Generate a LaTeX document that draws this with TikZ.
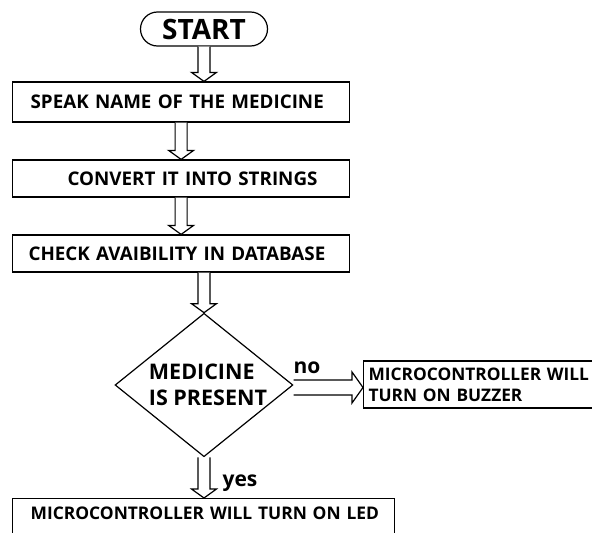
\documentclass[tikz,border=0pt]{standalone}
\usepackage{fontspec}
\setmainfont{Open Sans}
\usetikzlibrary{shapes.geometric,calc}
\tikzset{
  ln/.style={line width=1.2pt},
  box/.style={ln, draw, inner xsep=0pt, inner ysep=0pt, text width=#1, align=left, anchor=west, font=\fontsize{18.8}{20}\selectfont\bfseries},
  harrow/.style={ln, draw, fill=white, line join=miter},
  lbl/.style={font=\fontsize{21}{22}\selectfont\bfseries, inner sep=0pt}
}
\newcommand\hdown[3]{%
  \draw[harrow] let \p1=(#1.south), \p2=(#2.north), \p3=(#3.center) in
    (\x3-6pt,\y1) -- (\x3-6pt,\y2+9pt) -- (\x3-12.5pt,\y2+9pt) -- (\x3,\y2)
    -- (\x3+12.5pt,\y2+9pt) -- (\x3+6pt,\y2+9pt) -- (\x3+6pt,\y1);}
\begin{document}
\begin{tikzpicture}[x=1pt,y=-1pt]
\useasboundingbox (0,0) rectangle (592,533);
\clip (0,0) rectangle (592,533);
\node[ln, draw, rounded corners=17pt, minimum width=127pt, minimum height=34pt, inner sep=0pt,
  font=\fontsize{28}{30}\selectfont\bfseries] (start) at (204,29) {START};
\node[box=337pt, minimum height=40pt] (b1) at (12,102) {\hspace*{18pt}SPEAK NAME OF THE MEDICINE};
\node[box=337pt, minimum height=37pt] (b2) at (12,178.5) {\hspace*{55pt}CONVERT IT INTO STRINGS};
\node[box=337pt, minimum height=37pt] (b3) at (12,253.5) {\hspace*{16pt}CHECK AVAIBILITY IN DATABASE};
\node[ln, draw, diamond, minimum width=174pt, minimum height=140pt, aspect=1.24, inner sep=0pt,
  align=left, font=\fontsize{21.5}{26}\selectfont\bfseries] (dia) at (204,385)
  {\hspace*{8pt}MEDICINE\\\hspace*{8pt}IS PRESENT};
\node[box=240pt, minimum height=47pt, inner xsep=5pt, font=\fontsize{17.3}{21}\selectfont\bfseries]
  (buzz) at (363,384.5) {MICROCONTROLLER WILL\\TURN ON BUZZER};
\node[box=382pt, anchor=north west, inner ysep=5pt, text height=16pt, text depth=25pt,
  font=\fontsize{17.4}{20}\selectfont\bfseries]
  (led) at (12,498) {\hspace*{18pt}MICROCONTROLLER WILL TURN ON LED};
\hdown{start}{b1}{start}
\hdown{b1}{b2}{b1}
\hdown{b2}{b3}{b1}
\hdown{b3}{dia}{dia}
\hdown{dia}{led}{dia}
\draw[harrow] let \p1=(dia.east), \p2=(buzz.west) in
  (\x1,\y1+5pt) -- (\x2-11pt,\y1+5pt) -- (\x2-11pt,\y1+13pt) -- (\x2,\y1-2.5pt)
  -- (\x2-11pt,\y1-18pt) -- (\x2-11pt,\y1-10pt) -- (\x1,\y1-10pt);
\node[lbl] (no) at (307,368) {no};
\node[lbl] (yes) at (240,483) {yes};
\end{tikzpicture}
\end{document}
